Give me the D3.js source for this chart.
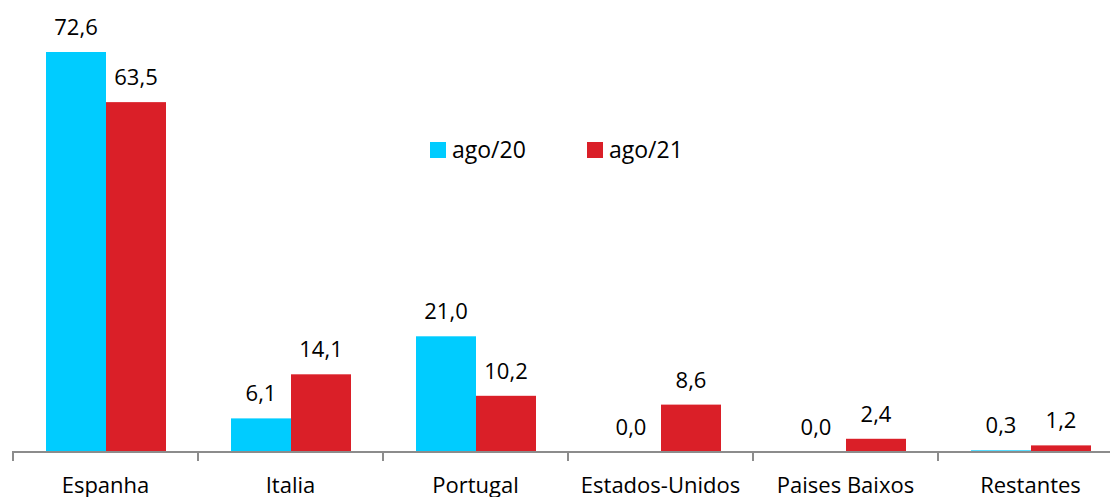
<!DOCTYPE html>
<html>
<head>
<meta charset="utf-8">
<script src="https://cdn.jsdelivr.net/npm/d3@7"></script>
<style>
	body { margin: 0; background: #fff; overflow: hidden; }
	text { font-family: "Open Sans", "Noto Sans", sans-serif; fill: #000; }
</style>
</head>
<body>
<div id="chart"></div>
<script>
var categories = ['Espanha', 'Italia', 'Portugal', 'Estados-Unidos', 'Paises Baixos', 'Restantes'];
var seriesNames = ['ago/20', 'ago/21'];
var ago20 = [72.6, 6.1, 21.0, 0.0, 0.0, 0.3];
var ago21 = [63.5, 14.1, 10.2, 8.6, 2.4, 1.2];
var colors = ['#00ccff', '#da1f28'];

var width = 1110,
	height = 497;

var svg = d3.select('#chart').append('svg')
	.attr('width', width)
	.attr('height', height)
	.style('display', 'block');

var baseY = 452;

// one band per category, 185px wide, starting at the first tick
var x = d3.scaleBand()
	.domain(categories)
	.range([13, 13 + 185 * categories.length])
	.paddingInner(0)
	.paddingOuter(0);

var xInner = d3.scaleBand()
	.domain(seriesNames)
	.range([33, 33 + 120]);

var y = d3.scaleLinear()
	.domain([0, 72.6])
	.range([baseY, 52]);

var rows = categories.map(function(c, i) {
	return { cat: c, vals: [ago20[i], ago21[i]] };
});

var groups = svg.append('g')
	.selectAll('g.cat')
	.data(rows)
	.enter()
	.append('g')
	.classed('cat', true)
	.attr('transform', d => 'translate(' + x(d.cat) + ',0)');

groups.selectAll('rect')
	.data(d => d.vals.map((v, j) => ({ s: seriesNames[j], v: v, j: j })))
	.enter()
	.append('rect')
	.attr('x', d => xInner(d.s))
	.attr('width', xInner.bandwidth())
	.attr('y', d => y(d.v))
	.attr('height', d => baseY - y(d.v))
	.attr('fill', d => colors[d.j]);

var fmt = d => d.toFixed(1).replace('.', ',');

groups.selectAll('text.val')
	.data(d => d.vals.map((v, j) => ({ s: seriesNames[j], v: v })))
	.enter()
	.append('text')
	.classed('val', true)
	.attr('x', d => xInner(d.s) + xInner.bandwidth() / 2)
	.attr('y', d => y(d.v) - 17)
	.attr('text-anchor', 'middle')
	.style('font-size', '22px')
	.text(d => fmt(d.v));

// axis
var axis = svg.append('g').attr('transform', 'translate(0,' + baseY + ')');
axis.append('line')
	.attr('x1', 12).attr('x2', width)
	.attr('stroke', '#8c8c8c').attr('stroke-width', 2);
axis.selectAll('line.tick')
	.data(categories)
	.enter()
	.append('line')
	.classed('tick', true)
	.attr('x1', d => x(d)).attr('x2', d => x(d))
	.attr('y1', 0).attr('y2', 9)
	.attr('stroke', '#8c8c8c').attr('stroke-width', 2);
axis.selectAll('text')
	.data(categories)
	.enter()
	.append('text')
	.attr('x', d => x(d) + x.bandwidth() / 2)
	.attr('y', 41)
	.attr('text-anchor', 'middle')
	.style('font-size', '22px')
	.text(d => d);

// legend
var legendX = [430, 587];
var legend = svg.append('g')
	.selectAll('g')
	.data(seriesNames)
	.enter()
	.append('g')
	.attr('transform', (d, i) => 'translate(' + legendX[i] + ',142)');
legend.append('rect')
	.attr('width', 16).attr('height', 16)
	.attr('fill', (d, i) => colors[i]);
legend.append('text')
	.attr('x', 22).attr('y', 16)
	.style('font-size', '23px')
	.text(d => d);
</script>
</body>
</html>
